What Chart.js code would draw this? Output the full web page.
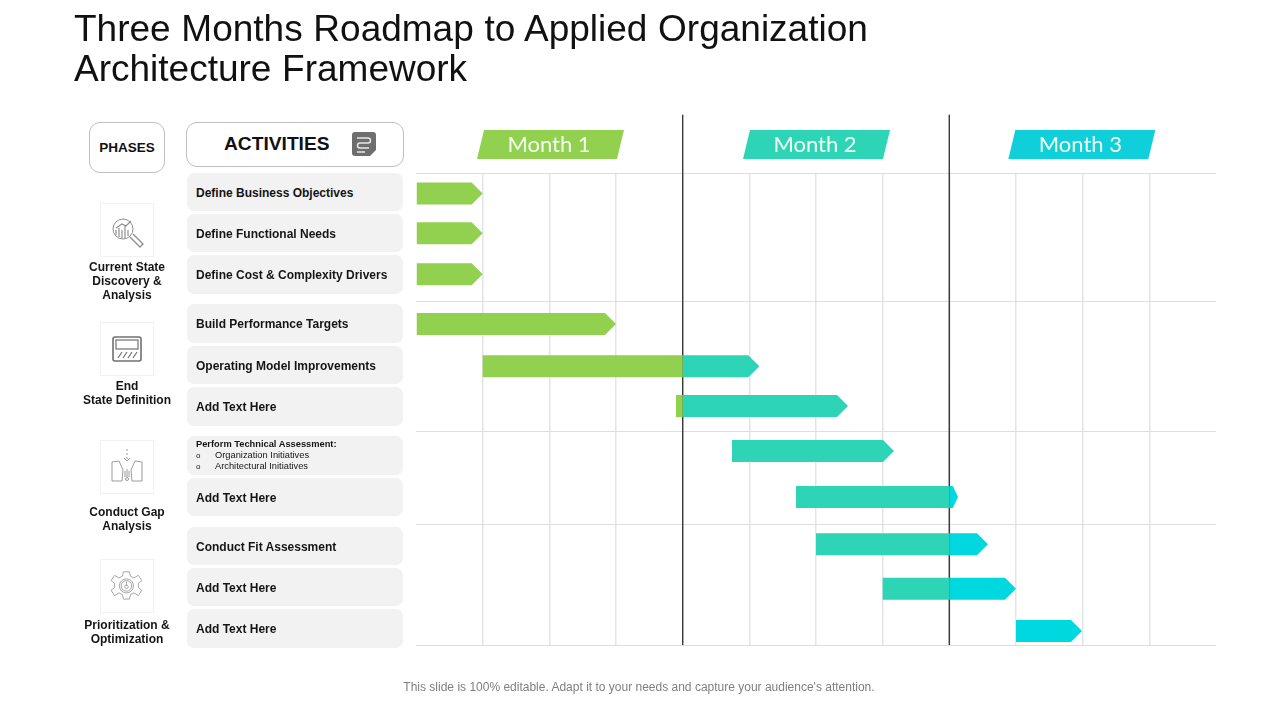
<!DOCTYPE html>
<html>
<head>
<meta charset="utf-8">
<title>Three Months Roadmap</title>
<script src="https://cdn.jsdelivr.net/npm/chart.js@4/dist/chart.umd.min.js"></script>
<style>
  html, body { margin: 0; padding: 0; background: #fff; }
  body { width: 1280px; height: 720px; overflow: hidden; position: relative; font-family: "Liberation Sans", Arial, sans-serif; color: #111; }
  #chart { position: absolute; left: 0; top: 0; }
  #title { position: absolute; left: 74px; top: 9px; margin: 0; font-size: 37px; line-height: 39.5px; font-weight: normal; word-spacing: 0.4px; color: #111; white-space: nowrap; }
  .box { position: absolute; box-sizing: border-box; background: #fff; border: 1px solid #bfbfbf; border-radius: 11px; display: flex; align-items: center; justify-content: center; font-weight: bold; }
  #phasesHead { left: 89px; top: 122px; width: 76px; height: 51px; font-size: 13.5px; }
  #activitiesHead { left: 186px; top: 122px; width: 218px; height: 45px; font-size: 19.2px; }
  #activitiesHead span { position: absolute; left: 37px; top: 10px; }
  #activitiesHead svg { position: absolute; left: 165px; top: 9px; }
  .pill { position: absolute; left: 187px; width: 216px; box-sizing: border-box; padding-left: 9px; padding-top: 1px; background: #f2f2f2; border-radius: 7px; display: flex; align-items: center; font-size: 12px; font-weight: bold; color: #151515; white-space: nowrap; }
  .pill.detail { display: block; font-size: 9.3px; font-weight: normal; line-height: 11px; padding-top: 3px; }
  .pill.detail b { display: block; }
  .pill.detail i { font-style: normal; display: inline-block; width: 19px; font-size: 8px; }
  .phaseIcon { position: absolute; left: 100px; width: 54px; height: 54px; box-sizing: border-box; border: 1px solid #f1f1f1; }
  .phaseLabel { position: absolute; left: 72px; width: 110px; text-align: center; font-size: 12px; line-height: 14px; font-weight: bold; color: #151515; }
  #note { position: absolute; left: 0; width: 1278px; top: 680px; text-align: center; font-size: 12px; color: #7f7f7f; }
</style>
</head>
<body>
<canvas id="chart" width="1280" height="720"></canvas>
<h1 id="title">Three Months Roadmap to Applied Organization<br>Architecture Framework</h1>
<div class="box" id="phasesHead">PHASES</div>
<div class="box" id="activitiesHead"><span>ACTIVITIES</span>
  <svg width="24" height="24" viewBox="0 0 24 24"><path d="M3 0h18a3 3 0 0 1 3 3v15l-6 6H3a3 3 0 0 1-3-3V3a3 3 0 0 1 3-3z" fill="#6e6e6e"/><path d="M5 6h11a2.5 2.5 0 0 1 0 5H8a2.5 2.5 0 0 0 0 5h9M5 20h8" fill="none" stroke="#e8e8e8" stroke-width="1.4"/></svg>
</div>
<div id="activities"></div>

<div class="phaseIcon" style="top:203px"><svg width="52" height="52" viewBox="0 0 52 52" fill="none" stroke="#909090"><circle cx="22" cy="25" r="10"/><path d="M15 31v-5M18 33v-9M21 34v-8M24 34v-12M27 32v-6M15 24l6-4 4 2 5-5" stroke-width="1.2"/><path d="M29 33l10 10 3-3-10-10" stroke-width="1.4"/></svg></div>
<div class="phaseIcon" style="top:322px"><svg width="52" height="52" viewBox="0 0 52 52" fill="none" stroke="#707070"><rect x="12" y="14" width="28" height="24" rx="2" stroke-width="1.6"/><rect x="15" y="17" width="22" height="9" stroke-width="1.2"/><path d="M17 35l4-6M22 35l4-6M27 35l4-6M32 35l4-6" stroke-width="1.2"/></svg></div>
<div class="phaseIcon" style="top:440px"><svg width="52" height="52" viewBox="0 0 52 52" fill="none" stroke="#909090" stroke-width="0.9"><path d="M26 8v12" stroke-dasharray="2 2"/><path d="M23 17l3 3 3-3M11 21l7-1 4 9-1 11H11zM41 21l-7-1-4 9 1 11h10zM24 30v6M26 28v8M28 30v6"/><circle cx="26" cy="38" r="1.5"/></svg></div>
<div class="phaseIcon" style="top:559px"><svg width="52" height="52" viewBox="0 0 52 52" fill="none" stroke="#909090" stroke-width="0.9"><g transform="translate(3 3) scale(0.88)"><path d="M22 10h7l1 5 4 2 5-3 4 6-4 3v5l4 3-4 6-5-3-4 2-1 5h-7l-1-5-4-2-5 3-4-6 4-3v-5l-4-3 4-6 5 3 4-2z"/><circle cx="25.500" cy="26" r="8"/><circle cx="25.500" cy="26" r="6"/><circle cx="25.500" cy="27" r="2"/><path d="M25.500 21v5"/></g></svg></div>

<div class="phaseLabel" style="top:260px">Current State<br>Discovery &amp;<br>Analysis</div>
<div class="phaseLabel" style="top:379px">End<br>State Definition</div>
<div class="phaseLabel" style="top:505px">Conduct Gap<br>Analysis</div>
<div class="phaseLabel" style="top:618px">Prioritization &amp;<br>Optimization</div>
<div id="note">This slide is 100% editable. Adapt it to your needs and capture your audience's attention.</div>

<script>
const activities = [
  'Define Business Objectives', 'Define Functional Needs', 'Define Cost & Complexity Drivers',
  'Build Performance Targets', 'Operating Model Improvements', 'Add Text Here',
  'Perform Technical Assessment:', 'Add Text Here',
  'Conduct Fit Assessment', 'Add Text Here', 'Add Text Here'
];
const assessmentItems = ['Organization Initiatives', 'Architectural Initiatives'];
const monthLabels = ['Month 1', 'Month 2', 'Month 3'];
const monthCenters = [2.01, 6, 9.98];   // in weeks
const monthDividers = [4, 8];

// row position of each activity, in row heights from the top of the grid
const rowPositions = [0.49, 1.46, 2.46, 3.67, 4.7, 5.67, 6.77, 7.89, 9.04, 10.13, 11.16];
const sectionLines = [0, 3.11, 6.29, 8.56, 11.5];

// start and end of each activity per month, in weeks
const month1Start = [0, 0, 0, 0, 1, 3.9, null, null, null, null, null];
const month1End = [1, 1, 1, 3, 4, 4, null, null, null, null, null];
const month2Start = [null, null, null, null, 4, 4, 4.74, 5.7, 6, 7, null];
const month2End = [null, null, null, null, 5.15, 6.48, 7.17, 8, 8, 8, null];
const month3Start = [null, null, null, null, null, null, null, 8, 8, 8, 9];
const month3End = [null, null, null, null, null, null, null, 8.13, 8.58, 9, 9.99];

const GREEN = '#92d14f';
const TEAL = '#2dd4b6';
const CYAN = '#00d8e0';
const monthColors = [GREEN, TEAL, '#0fd0da'];

// pill boxes for the activity list [top, bottom]
const pillBoxes = [[173, 211], [214, 252], [255, 294], [304, 343], [346, 384], [387, 426],
  [436, 475], [478, 516], [527, 565], [568, 606], [609, 648]];

const activitiesEl = document.querySelector('#activities');
activities.forEach((name, i) => {
  const pill = document.createElement('div');
  pill.className = 'pill';
  pill.style.top = pillBoxes[i][0] + 'px';
  pill.style.height = (pillBoxes[i][1] - pillBoxes[i][0]) + 'px';
  if (name.startsWith('Perform')) {
    pill.classList.add('detail');
    pill.innerHTML = `<b>${name}</b>` + assessmentItems.map(t => `<div><i>o</i>${t}</div>`).join('');
  } else {
    pill.textContent = name;
  }
  activitiesEl.appendChild(pill);
});

// bar with a pointed end, unless it just carries on into the next month
class ArrowBar extends Chart.BarElement {
  draw(ctx) {
    const { x, y, base, height } = this.getProps(['x', 'y', 'base', 'height']);
    const top = y - height / 2;
    const bottom = y + height / 2;
    const tip = this.pointed ? Math.min(11, (x - base) * 0.6) : 0;
    ctx.save();
    ctx.fillStyle = this.options.backgroundColor;
    ctx.beginPath();
    ctx.moveTo(base, top);
    ctx.lineTo(x - tip, top);
    ctx.lineTo(x, y);
    ctx.lineTo(x - tip, bottom);
    ctx.lineTo(base, bottom);
    ctx.closePath();
    ctx.fill();
    ctx.restore();
  }
}
ArrowBar.id = 'arrowBar';
ArrowBar.defaults = Chart.BarElement.defaults;

class ArrowBarController extends Chart.BarController {
  updateElements(bars, start, count, mode) {
    super.updateElements(bars, start, count, mode);
    const data = this.getDataset().data;
    for (let i = start; i < start + count; i++) {
      bars[i].pointed = data[i].x[1] % 4 !== 0;
    }
  }
}
ArrowBarController.id = 'arrowBar';
ArrowBarController.defaults = { ...Chart.BarController.defaults, dataElementType: 'arrowBar' };
ArrowBarController.overrides = Chart.BarController.overrides;
Chart.register(ArrowBar, ArrowBarController);

function toBars(starts, ends) {
  const bars = [];
  starts.forEach((start, i) => {
    if (start !== null) bars.push({ x: [start, ends[i]], y: rowPositions[i] });
  });
  return bars;
}

function barDataset(label, starts, ends, color) {
  return {
    type: 'arrowBar',
    label: label,
    indexAxis: 'y',
    data: toBars(starts, ends),
    backgroundColor: color,
    barThickness: 22,
    grouped: false,
    order: 0
  };
}

const DIVIDER_TOP = -1.43;
const dividerPoints = [];
monthDividers.forEach(week => {
  dividerPoints.push({ x: week, y: DIVIDER_TOP }, { x: week, y: 11.5 }, { x: NaN, y: NaN });
});

const monthTags = {
  id: 'monthTags',
  afterDraw(chart) {
    const ctx = chart.ctx;
    const xScale = chart.scales.x;
    monthLabels.forEach((label, i) => {
      const cx = xScale.getPixelForValue(monthCenters[i]);
      ctx.save();
      ctx.fillStyle = monthColors[i];
      ctx.beginPath();
      ctx.moveTo(cx - 66, 130);
      ctx.lineTo(cx + 74, 130);
      ctx.lineTo(cx + 67, 159);
      ctx.lineTo(cx - 73, 159);
      ctx.closePath();
      ctx.fill();
      ctx.fillStyle = '#f4fff4';
      ctx.font = '22px Lato';
      ctx.textAlign = 'center';
      ctx.textBaseline = 'alphabetic';
      ctx.fillText(label, cx - 1, 152);
      ctx.restore();
    });
  }
};

new Chart(document.querySelector('#chart'), {
  data: {
    datasets: [
      barDataset('Month 1', month1Start, month1End, GREEN),
      barDataset('Month 2', month2Start, month2End, TEAL),
      barDataset('Month 3', month3Start, month3End, CYAN),
      {
        type: 'line',
        label: 'Month dividers',
        data: dividerPoints,
        borderColor: '#3a3a3a',
        borderWidth: 1,
        pointRadius: 0,
        spanGaps: false,
        clip: false,
        order: 1
      }
    ]
  },
  options: {
    responsive: false,
    animation: false,
    devicePixelRatio: 1,
    layout: { padding: { left: 416, right: 64, top: 173.5, bottom: 75 } },
    plugins: { legend: { display: false }, tooltip: { enabled: false } },
    scales: {
      x: {
        type: 'linear',
        min: 0,
        max: 12,
        ticks: { display: false, stepSize: 1 },
        border: { display: false },
        grid: {
          drawTicks: false,
          lineWidth: 1.5,
          color: c => (c.tick.value === 0 || c.tick.value === 12 ? 'transparent' : '#e4e4e4')
        }
      },
      y: {
        type: 'linear',
        reverse: true,
        offset: false,
        min: 0,
        max: 11.5,
        afterBuildTicks: axis => { axis.ticks = sectionLines.map(v => ({ value: v })); },
        ticks: { display: false },
        border: { display: false },
        grid: { offset: false, drawTicks: false, color: '#dedede' }
      }
    }
  },
  plugins: [monthTags]
});
</script>
</body>
</html>
